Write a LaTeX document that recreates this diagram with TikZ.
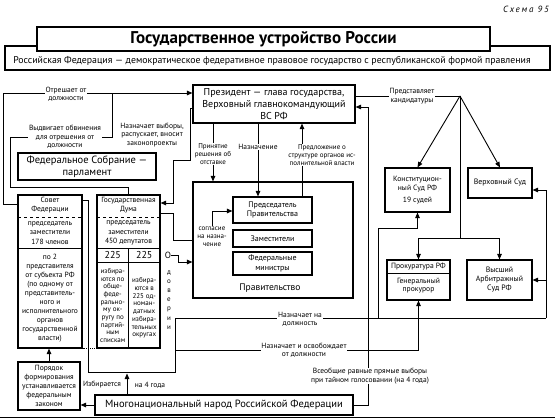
\documentclass[tikz,border=0pt]{standalone}
\usepackage{fontspec}
\setmainfont{PT Sans}
\usetikzlibrary{arrows.meta}
\newcommand\myfs[2]{\fontsize{#1}{#2}\selectfont}
\begin{document}
\begin{tikzpicture}[x=1pt,y=-1pt,
  bx/.style={draw,line width=1.1pt,align=center,inner sep=0pt},
  txt/.style={align=center,inner sep=0pt},
  lbl/.style={fill=white,inner sep=0.8pt,align=center,font={\myfs{7.5}{8.3}}},
  lbls/.style={fill=white,inner sep=0.8pt,align=center,font={\myfs{7}{7.8}}},
  ln/.style={line width=0.9pt},
  arr/.style={line width=0.9pt,-{Triangle[length=5.5pt,width=4.5pt]}}]
\useasboundingbox (0,0) rectangle (555,420);

% ---------- header ----------
\node[txt,anchor=east,font={\myfs{9}{10}\itshape\addfontfeature{LetterSpace=20}}] (schema) at (549,9) {Схема 95};
\node[bx,minimum width=545,minimum height=24] (sub) at (277.5,58) {};
\node[txt,font={\myfs{9.8}{11}}] (subtxt) at (272,60.5) {Российская Федерация — демократическое федеративное правовое государство с республиканской формой правления};
\node[bx,fill=white,minimum width=453,minimum height=24,font={\myfs{17}{19}\bfseries}] (title) at (263.5,39) {Государственное устройство России};

% ---------- main boxes ----------
\node[bx,minimum width=162,minimum height=38,font={\myfs{10}{12}}] (pres) at (274,104) {Президент — глава государства,\\Верховный главнокомандующий\\ВС РФ};
\node[bx,minimum width=138,minimum height=27,font={\myfs{10.5}{12.5}}] (fs) at (87,166.5) {Федеральное Собрание —\\парламент};

% Sovet Federacii
\node[bx,minimum width=64,minimum height=153] (sf) at (50,271.5) {};
\draw[ln,dashed] (18,217) -- (82,217);
\draw[ln] (18,248) -- (82,248);
\node[txt,font={\myfs{7.5}{9}}] (sfhead) at (50,205.5) {Совет\\Федерации};
\node[txt,font={\myfs{7.5}{9.5}}] (sfmid) at (50,233) {председатель\\заместители\\178 членов};
\node[txt,font={\myfs{7.5}{9}}] (sflow) at (50,298) {по 2\\представителя\\от субъекта РФ\\(по одному от\\представитель-\\ного и\\исполнительного\\органов\\государственной\\власти)};

% Gosudarstvennaya Duma
\node[bx,minimum width=63,minimum height=153] (gd) at (128.5,271.5) {};
\draw[ln,dashed] (97,217) -- (160,217);
\draw[ln] (97,248) -- (160,248);
\draw[ln] (97,262) -- (160,262);
\draw[ln] (128.5,248) -- (128.5,348);
\node[txt,font={\myfs{7.5}{9}}] (gdhead) at (128.5,205.5) {Государственная\\Дума};
\node[txt,font={\myfs{7.5}{9.5}}] (gdmid) at (128.5,233) {председатель\\заместители\\450 депутатов};
\node[txt,font={\myfs{10}{11}}] (n225a) at (112.75,255) {225};
\node[txt,font={\myfs{10}{11}}] (n225b) at (144.25,255) {225};
\node[txt,font={\myfs{7}{7.7}}] (gdl) at (112.75,305.5) {избира-\\ются по\\обще-\\феде-\\рально-\\му ок-\\ругу по\\партий-\\ным\\спискам};
\node[txt,font={\myfs{7}{7.7}}] (gdr) at (144.25,308) {избира-\\ются в\\225 од-\\номан-\\датных\\избира-\\тельных\\округах};
\draw[ln,densely dotted] (sf.south east) -- (gd.south west);

% O doverii
\node[txt,font={\myfs{9}{10}}] (odov) at (168,255) {О};
\node[txt,font={\myfs{7}{9.2}}] (dov) at (169,300) {д\\о\\в\\е\\р\\и\\и};

% Pravitelstvo
\node[bx,minimum width=160,minimum height=116] (gov) at (273,240) {};
\node[txt,font={\myfs{9.5}{11}}] (govtxt) at (270,288) {Правительство};
\node[bx,minimum width=79,minimum height=26,font={\myfs{8}{9.5}}] (pred) at (272.5,210) {Председатель\\Правительства};
\node[bx,minimum width=79,minimum height=17,font={\myfs{8}{9.5}}] (zam) at (272.5,238.5) {Заместители};
\node[bx,minimum width=79,minimum height=23,font={\myfs{8}{9.5}}] (min) at (272.5,263.5) {Федеральные\\министры};

% Courts
\node[bx,minimum width=65,minimum height=44,font={\myfs{7.6}{9}}] (ks) at (417.5,190) {Конституцион-\\ный Суд РФ\\[3.5pt]19 судей};
\node[bx,minimum width=64,minimum height=30,font={\myfs{7.8}{9}}] (vs) at (500,183) {Верховный Суд};
\node[bx,minimum width=63,minimum height=40] (pr) at (418.5,280) {};
\draw[ln] (387,273) -- (450,273);
\node[txt,font={\myfs{7.6}{9}}] (prtop) at (418.5,266.5) {Прокуратура РФ};
\node[txt,font={\myfs{7.6}{8.5}}] (prbot) at (418.5,285.5) {Генеральный\\прокурор};
\node[bx,minimum width=65,minimum height=40,font={\myfs{7.8}{9}}] (vas) at (499.5,280) {Высший\\Арбитражный\\Суд РФ};

% Bottom
\node[bx,minimum width=62,minimum height=48,font={\myfs{7.5}{9}}] (por) at (49,386) {Порядок\\формирования\\устанавливается\\федеральным\\законом};
\node[bx,minimum width=258,minimum height=20,font={\myfs{10.5}{12}}] (nar) at (224,405) {Многонациональный народ Российской Федерации};
\draw[line width=1.1pt] (0,417.5) -- (555,417.5);

% ---------- connectors ----------
\draw[arr] (sf.west |- 0,204) -| (3,93) -- (pres.west |- 0,93);
\draw[ln] (gd.north) -- (128.5,187) -| (10,137) -| (112,93);
\draw[arr] (pres.west |- 0,108) -- (190,108) |- (173,160) |- (gd.east |- 0,203);
\draw[ln] (gd.east |- 0,213) -| (173,240) -- (gov.west |- 0,240);
\node[lbls] (sogl) at (212,237) {согласие\\на назна-\\чение};
\draw[arr] (sogl.north) |- (pred.west |- 0,211);
\draw[arr] (odov.east) -- (178,255) |- (gov.west |- 0,262);

\draw[arr] (pres.south -| 213,0) -- (gov.north -| 213,0);
\draw[arr] (pres.south -| 258,0) -- (pred.north -| 258,0);
\draw[arr] (pred.north -| 302,0) -- (pres.south -| 302,0);

\draw[ln] (sf.east |- 0,200) -| (88,372) -| (175,318) -- (546,318);
\draw[arr] (378,318) |- (ks.south |- 0,228) -- (ks.south);
\draw[arr] (546,318) |- (vas.east);
\draw[arr] (546,280) |- (vs.east |- 0,190);
\draw[arr] (175,350) -| (pr.south);

\draw[arr] (nar.east) -| (368,107) -- (pres.east |- 0,107);

\coordinate (hub) at (460,96);
\coordinate (hubb) at (460,238);
\draw[ln] (pres.east |- 0,96) -- (hub);
\draw[arr] (hub) -- (ks.north);
\draw[arr] (hub) -- (vs.north);
\draw[arr] (hub) -- (hubb) -| (pr.north);
\draw[arr] (hubb) -| (vas.north);

\draw[arr] (nar.west) -- (por.east |- nar.west);
\draw[arr] (por.north) -- (por.north |- sf.south);
\draw[arr] (nar.north -| 127,0) -- (127,373.5);

% ---------- labels ----------
\node[lbl] (lotr) at (66,94) {Отрешает от\\должности};
\node[lbl] (lvyd) at (65,137) {Выдвигает обвинения\\для отрешения от\\должности};
\node[lbl] (lnaz) at (152,135) {Назначает выборы,\\распускает, вносит\\законопроекты};
\node[lbls] (lotst) at (213,154) {Принятие\\решения об\\отставке};
\node[lbl] (lnazn) at (258,147) {Назначение};
\node[lbls] (lpredl) at (322,155) {Предложение о\\структуре органов ис-\\полнительной власти};
\node[lbl] (lpk) at (412,96) {Представляет\\кандидатуры};
\node[lbl] (lnd1) at (300,319) {Назначает на\\должность};
\node[lbl] (lnd2) at (304,350) {Назначает и освобождает\\от должности};
\node[lbl] (lvyb) at (370,376) {Всеобщие равные прямые выборы\\при тайном голосовании (на 4 года)};
\node[lbl,fill=none] (lizb) at (102,385) {Избирается};
\node[lbl,fill=none] (lna4) at (150,385) {на 4 года};
\end{tikzpicture}
\end{document}
